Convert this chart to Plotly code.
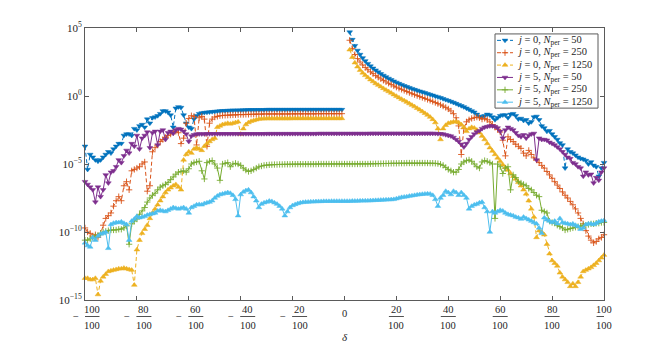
import numpy as np
import plotly.graph_objects as go

delta = [i / 100 for i in range(-100, 101)]

# log10 of each error curve (None = not drawn)
log_j0_n50 = [
    -3.7, -5.4, -4.3, -4.5, -4.7, -4.8, -4.7, -4.5, -4.3, -4.1,
    -4.2, -3.9, -3.7, -3.5, -3.5, -2.9, -2.8, -2.8, -2.9, -2.4,
    -2.5, -2.2, -2.1, -2.3, -1.7, -2.0, -1.6, -1.55, -1.45, -1.3,
    -1.1, -1.1, -1.2, -1.4, -2.3, -0.9, -0.8, -0.85, -1.4, -2.0,
    -2.3, -2.4, -1.7, -1.45, -1.3, -1.25, -1.22, -1.2, -1.18, -1.16,
    -1.14, -1.12, -1.1, -1.09, -1.08, -1.07, -1.06, -1.05, -1.05, -1.04,
    -1.04, -1.03, -1.03, -1.02, -1.02, -1.02, -1.01, -1.01, -1.01, -1.01,
    -1.0, -1.0, -1.0, -1.0, -1.0, -1.0, -1.0, -1.0, -1.0, -1.0,
    -1.0, -1.0, -1.0, -1.0, -1.0, -1.0, -1.0, -1.0, -1.0, -1.0,
    -1.0, -1.0, -1.0, -1.0, -1.0, -1.0, -1.0, -1.0, -1.0, -1.0,
    None, None, 4.7, 4.15, 3.7, 3.35, 3.05, 2.8, 2.58, 2.38,
    2.2, 2.04, 1.9, 1.76, 1.63, 1.51, 1.4, 1.29, 1.19, 1.09,
    1.0, 0.91, 0.83, 0.75, 0.68, 0.61, 0.54, 0.47, 0.41, 0.35,
    0.29, 0.23, 0.17, 0.11, 0.05, -0.01, -0.07, -0.13, -0.2, -0.27,
    -0.34, -0.41, -0.48, -0.56, -0.64, -0.72, -0.8, -0.9, -1.0, -1.1,
    -1.2, -1.35, -1.5, -1.55, -1.45, -1.35, -1.4, -1.55, -1.75, -1.6,
    -1.45, -1.4, -1.4, -1.6, -1.35, -1.3, -1.45, -1.7, -1.65, -1.8,
    -1.75, -2.0, -1.9, -1.55, -1.5, -1.75, -2.2, -2.35, -2.6, -2.55,
    -2.8, -3.0, -3.2, -3.45, -3.6, -5.3, -3.9, -4.1, -4.2, -4.35,
    -4.5, -4.6, -4.65, -4.75, -5.0, -4.85, -5.1, -5.2, -5.9, -5.3,
    -4.9,
]

log_j0_n250 = [
    -9.7, -10.0, -10.1, -10.3, -10.2, -10.4, -10.1, -9.5, -9.0, -8.8,
    -8.6, -8.1, -7.7, -7.4, -7.7, -6.6, -6.3, -6.9, -5.5, -5.4,
    -5.3, -5.2, -5.0, -4.85, -7.0, -6.6, -4.1, -3.8, -3.6, -3.35,
    -3.2, -3.05, -2.9, -2.8, -2.65, -2.6, -2.7, -3.5, -3.1, -2.0,
    -1.65, -1.45, -1.5, -3.6, -1.6, -1.5, -1.7, -3.7, -2.0, -1.7,
    -1.55, -1.5, -1.45, -1.43, -1.42, -1.41, -1.4, -1.39, -1.38, -1.37,
    -1.36, -1.36, -1.35, -1.35, -1.34, -1.34, -1.33, -1.33, -1.33, -1.32,
    -1.32, -1.32, -1.32, -1.32, -1.32, -1.32, -1.32, -1.32, -1.32, -1.32,
    -1.31, -1.31, -1.31, -1.31, -1.31, -1.31, -1.31, -1.31, -1.31, -1.31,
    -1.3, -1.3, -1.3, -1.3, -1.3, -1.3, -1.3, -1.3, -1.3, -1.3,
    None, None, 4.1, 3.5, 3.05, 2.75, 2.5, 2.28, 2.1, 1.93,
    1.78, 1.64, 1.5, 1.38, 1.26, 1.15, 1.04, 0.94, 0.84, 0.74,
    0.65, 0.57, 0.49, 0.41, 0.33, 0.25, 0.17, 0.1, 0.03, -0.04,
    -0.11, -0.18, -0.25, -0.32, -0.4, -0.48, -0.56, -0.65, -0.74, -0.84,
    -0.95, -1.1, -1.3, -1.6, -2.2, -4.3, -2.4, -1.9, -1.75, -1.65,
    -1.6, -1.55, -1.6, -1.7, -1.65, -1.75, -1.9, -2.1, -2.3, -2.45,
    -2.65, -3.25, -4.4, -3.0, -3.2, -3.35, -3.55, -3.7, -3.85, -4.2,
    -4.4, -4.0, -4.3, -4.55, -4.7, -4.9, -5.1, -5.3, -5.55, -5.8,
    -6.05, -6.3, -6.55, -6.8, -7.05, -7.3, -7.5, -7.75, -8.0, -8.3,
    -8.6, -9.0, -9.4, -9.9, -10.3, -10.6, -10.8, -10.7, -10.5, -10.4,
    -10.2,
]

log_j0_n1250 = [
    -13.4, -13.4, -13.5, -13.5, -13.4, -14.6, -13.6, -13.3, -13.1, -12.9,
    -12.85, -12.8, -12.75, -12.7, -12.7, -12.65, -12.7, -12.75, -12.8, -13.9,
    -11.3, -10.6, -10.1, -9.8, -9.5, -9.0, -8.6, -8.3, -8.0, -7.7,
    -7.4, -7.1, -6.9, -6.75, -6.6, -6.5, -6.7, -6.9, -4.7, -4.3,
    -4.1, -4.2, -3.9, -3.8, -3.9, -4.0, -3.7, -3.5, -3.35, -3.2,
    -3.1, -2.3, -2.2, -2.1, -2.05, -2.0, -2.05, -2.0, -1.95, -1.9,
    -2.8, -2.4, -2.1, -1.95, -1.85, -1.8, -1.75, -1.7, -1.68, -1.67,
    -1.66, -1.66, -1.66, -1.66, -1.66, -1.66, -1.66, -1.66, -1.66, -1.66,
    -1.65, -1.65, -1.65, -1.65, -1.65, -1.65, -1.65, -1.65, -1.65, -1.65,
    -1.65, -1.65, -1.65, -1.65, -1.65, -1.65, -1.65, -1.65, -1.65, -1.65,
    None, None, 3.4, 2.85, 2.45, 2.15, 1.9, 1.7, 1.52, 1.36,
    1.2, 1.06, 0.92, 0.8, 0.68, 0.56, 0.44, 0.33, 0.22, 0.1,
    -0.01, -0.12, -0.23, -0.34, -0.45, -0.56, -0.67, -0.78, -0.9, -1.02,
    -1.14, -1.27, -1.4, -1.55, -1.72, -1.95, -2.4, -3.2, -2.4, -2.15,
    -2.0, -1.95, -1.9, -1.9, -1.95, -2.1, -2.3, -2.6, -2.4, -2.3,
    -2.35, -2.5, -2.7, -2.95, -3.2, -3.5, -3.8, -4.05, -4.3, -4.55,
    -4.8, -5.05, -5.25, -5.45, -5.7, -5.9, -6.1, -6.35, -6.6, -6.9,
    -7.2, -7.7, -8.3, -8.9, -10.4, -9.9, -10.0, -10.2, -10.9, -11.6,
    -12.1, -12.3, -12.5, -13.0, -13.3, -13.5, -13.7, -14.0, -13.8, -14.0,
    -13.7, -13.3, -12.9, -12.8, -12.7, -12.6, -12.45, -12.3, -12.1, -11.9,
    -11.7,
]

log_j5_n50 = [
    -6.3, -6.5, -6.7, -6.9, -7.8, -6.7, -7.4, -6.9, -5.8, -6.4,
    -5.6, -5.5, -5.2, -4.7, -4.9, -4.4, -4.0, -4.2, -3.5, -3.7,
    -2.9, -3.9, -3.1, -2.9, -2.65, -3.8, -2.7, -2.6, -3.6, -2.6,
    -2.5, -3.2, -2.7, -2.6, -2.75, -2.5, -2.4, -2.45, -2.6, -2.8,
    -3.35, -2.95, -2.85, -2.8, -2.79, -2.79, -2.79, -2.78, -2.78, -2.78,
    -2.78, -2.78, -2.78, -2.78, -2.78, -2.78, -2.78, -2.78, -2.78, -2.78,
    -2.78, -2.78, -2.78, -2.78, -2.78, -2.78, -2.78, -2.78, -2.78, -2.78,
    -2.77, -2.77, -2.77, -2.77, -2.77, -2.77, -2.77, -2.77, -2.77, -2.77,
    -2.77, -2.77, -2.77, -2.77, -2.77, -2.77, -2.77, -2.77, -2.77, -2.77,
    -2.76, -2.76, -2.76, -2.76, -2.76, -2.76, -2.76, -2.76, -2.76, -2.76,
    -2.76, -2.76, -2.76, -2.76, -2.76, -2.76, -2.76, -2.76, -2.76, -2.76,
    -2.75, -2.75, -2.75, -2.75, -2.75, -2.75, -2.75, -2.75, -2.75, -2.75,
    -2.75, -2.75, -2.75, -2.75, -2.75, -2.75, -2.75, -2.75, -2.75, -2.75,
    -2.75, -2.75, -2.75, -2.75, -2.75, -2.76, -2.77, -2.78, -2.8, -2.85,
    -2.9, -2.95, -3.05, -3.2, -3.35, -3.55, -3.75, -3.5, -3.2, -3.0,
    -2.8, -2.65, -2.55, -2.4, -2.3, -2.25, -2.2, -2.2, -2.25, -2.35,
    -2.6, -3.1, -2.5, -2.3, -2.4, -2.5, -2.7, -2.9, -3.0, -2.85,
    -3.1, -2.9, -2.8, -2.75, -4.7, -3.1, -3.2, -3.2, -3.25, -3.4,
    -3.5, -3.6, -3.75, -3.9, -4.1, -4.3, -4.5, -4.6, -4.9, -5.0,
    -5.2, -5.3, -5.9, -5.6, -5.8, -5.75, -6.4, -6.0, -6.2, -5.6,
    -5.3,
]

log_j5_n250 = [
    -10.6, -10.6, -10.5, -10.4, -10.3, -10.25, -10.1, -10.0, -9.95, -9.9,
    -9.85, -9.85, -9.85, -9.8, -9.8, -9.7, -9.55, -10.9, -9.4, -9.2,
    -9.05, -8.7, -8.45, -8.2, -7.8, -7.5, -7.3, -7.15, -6.9, -6.7,
    -6.6, -6.5, -6.35, -6.15, -5.95, -5.75, -5.6, -5.55, -5.5, -5.6,
    -5.35, -5.0, -4.9, -4.85, -4.8, -5.5, -6.1, -4.9, -4.8, -4.75,
    -5.0, -5.3, -6.2, -5.0, -4.95, -4.9, -5.2, -5.0, -4.95, -5.0,
    -5.1, -5.3, -5.45, -5.55, -5.5, -5.4, -5.3, -5.2, -5.15, -5.1,
    -5.08, -5.06, -5.05, -5.04, -5.04, -5.03, -5.03, -5.02, -5.02, -5.02,
    -5.01, -5.01, -5.01, -5.01, -5.01, -5.01, -5.01, -5.01, -5.01, -5.01,
    -5.0, -5.0, -5.0, -5.0, -5.0, -5.0, -5.0, -5.0, -5.0, -5.0,
    -5.0, -5.0, -5.0, -5.0, -5.0, -5.0, -5.0, -5.0, -5.0, -5.0,
    -4.99, -4.99, -4.98, -4.98, -4.97, -4.97, -4.96, -4.96, -4.95, -4.95,
    -4.95, -4.94, -4.94, -4.94, -4.93, -4.93, -4.93, -4.93, -4.93, -4.93,
    -4.93, -4.93, -4.93, -4.94, -4.94, -4.95, -4.97, -5.02, -5.1, -5.25,
    -5.4, -5.5, -5.6, -5.6, -5.4, -5.0, -4.85, -4.75, -4.7, -4.8,
    -5.0, -5.2, -5.3, -4.85, -4.75, -4.8, -4.9, -5.0, -9.0, -5.0,
    -5.2, -5.7, -5.3, -5.2, -6.9, -5.8, -6.0, -6.3, -6.4, -6.5,
    -6.6, -6.8, -6.9, -7.1, -7.3, -7.4, -8.4, -8.5, -8.6, -9.2,
    -9.3, -9.35, -9.5, -9.6, -9.7, -9.85, -9.8, -9.75, -9.7, -9.65,
    -9.6, -9.55, -9.5, -9.5, -9.45, -9.4, -9.4, -9.35, -9.35, -9.3,
    -9.3,
]

log_j5_n1250 = [
    -10.8, -11.0, -11.1, -10.4, -10.6, -10.3, -10.15, -10.1, -10.0, -11.2,
    -9.45, -9.35, -9.3, -9.3, -9.25, -9.35, -9.45, -10.6, -9.2, -9.05,
    -8.85, -8.95, -8.9, -8.85, -8.75, -8.7, -8.65, -8.6, -8.45, -8.4,
    -8.45, -8.5, -8.4, -8.3, -8.2, -8.25, -8.3, -8.25, -8.2, -8.3,
    -8.6, -8.2, -8.1, -8.0, -7.97, -8.0, -7.9, -7.85, -7.8, -7.7,
    -7.5, -7.35, -7.25, -7.2, -7.15, -7.1, -7.15, -7.3, -7.6, -8.8,
    -7.25, -7.05, -6.95, -6.9, -7.1, -7.4, -7.7, -8.2, -7.95, -7.85,
    -7.8, -7.72, -7.75, -7.85, -7.95, -8.1, -8.3, -8.8, -8.5, -8.2,
    -8.05, -7.97, -7.9, -7.85, -7.82, -7.8, -7.79, -7.78, -7.77, -7.76,
    -7.75, -7.75, -7.74, -7.74, -7.74, -7.73, -7.73, -7.73, -7.73, -7.73,
    -7.73, -7.73, -7.73, -7.72, -7.72, -7.72, -7.71, -7.71, -7.7, -7.7,
    -7.69, -7.68, -7.67, -7.66, -7.65, -7.64, -7.63, -7.62, -7.61, -7.6,
    -7.55, -7.5, -7.45, -7.42, -7.4, -7.36, -7.33, -7.3, -7.27, -7.24,
    -7.22, -7.2, -7.19, -7.2, -7.3, -7.6, -8.1, -7.5, -7.3, -7.0,
    -7.1, -7.25, -7.0, -7.1, -7.3, -7.1, -7.3, -7.5, -8.3, -8.1,
    -8.0, -7.95, -7.85, -7.8, -8.2, -8.5, -10.0, -8.5, -8.6, -8.5,
    -8.4, -8.45, -8.6, -8.7, -8.75, -8.8, -8.9, -8.95, -9.05, -8.9,
    -9.0, -9.1, -9.2, -9.3, -9.4, -9.7, -10.1, -8.95, -9.1, -9.2,
    -9.3, -9.2, -9.4, -9.0, -9.3, -9.35, -9.4, -9.45, -9.4, -9.5,
    -9.6, -9.8, -9.7, -9.45, -9.4, -9.4, -9.45, -9.35, -9.25, -9.2,
    -9.15,
]

series_logs = [log_j0_n50, log_j0_n250, log_j0_n1250,
               log_j5_n50, log_j5_n250, log_j5_n1250]
series_names = [
    '<i>j</i> = 0, <i>N</i><sub>per</sub> = 50',
    '<i>j</i> = 0, <i>N</i><sub>per</sub> = 250',
    '<i>j</i> = 0, <i>N</i><sub>per</sub> = 1250',
    '<i>j</i> = 5, <i>N</i><sub>per</sub> = 50',
    '<i>j</i> = 5, <i>N</i><sub>per</sub> = 250',
    '<i>j</i> = 5, <i>N</i><sub>per</sub> = 1250',
]
series_colors = ['#0072BD', '#D95319', '#EDB120', '#7E2F8E', '#77AC30', '#4DBEEE']
series_symbols = ['triangle-down', 'cross-thin', 'triangle-up',
                  'triangle-down', 'cross-thin', 'triangle-up']
series_dash = ['4px,2.5px', '4px,2.5px', '4px,2.5px', 'solid', 'solid', 'solid']

x_tickvals = [-1.0, -0.8, -0.6, -0.4, -0.2, 0.0, 0.2, 0.4, 0.6, 0.8, 1.0]
x_numerators = ['100', '80', '60', '40', '20', '0', '20', '40', '60', '80', '100']
x_denominator = '100'
y_tickvals = [1e-15, 1e-10, 1e-5, 1e0, 1e5]
y_ticktext = ['10<sup>−15</sup>', '10<sup>−10</sup>', '10<sup>−5</sup>',
              '10<sup>0</sup>', '10<sup>5</sup>']

for s in series_logs:
    assert len(s) == len(delta), len(s)

FONT = 'Liberation Serif'
INK = '#262626'
AXIS = '#5a5a5a'

# the page body adds an 8px offset, so the plot box sits at (77,17)-(596,292) in figure px
PLOT_L, PLOT_R, PLOT_T, PLOT_B = 77, 596, 17, 292


def marker_style(symbol, color):
    if symbol == 'cross-thin':
        return dict(symbol=symbol, size=4.5, color=color, line=dict(color=color, width=0.9))
    return dict(symbol=symbol, size=5, color=color, line=dict(color=color, width=0.5))


fig = go.Figure()

for logs, name, color, sym, dash in zip(series_logs, series_names, series_colors,
                                       series_symbols, series_dash):
    y = [10 ** v if v is not None else None for v in logs]
    fig.add_trace(go.Scatter(
        x=delta, y=y, mode='lines+markers', name=name,
        line=dict(color=color, width=1, dash=dash),
        marker=marker_style(sym, color),
        connectgaps=False, cliponaxis=False,
    ))

# hand-drawn legend on a pixel-unit overlay axis (plotly's legend rows are too tall)
box_x = [487, 590, 590, 487, 487]
box_y = [23, 23, 98, 98, 23]
fig.add_trace(go.Scatter(x=box_x, y=box_y, xaxis='x2', yaxis='y2', mode='lines',
                         fill='toself', fillcolor='white',
                         line=dict(color=AXIS, width=1), hoverinfo='skip'))
row_y = [29.5, 42, 54.5, 67, 79.5, 92]
for ry, name, color, sym, dash in zip(row_y, series_names, series_colors,
                                      series_symbols, series_dash):
    fig.add_trace(go.Scatter(x=[489, 505], y=[ry, ry], xaxis='x2', yaxis='y2',
                             mode='lines', line=dict(color=color, width=1, dash=dash),
                             hoverinfo='skip'))
    fig.add_trace(go.Scatter(x=[497], y=[ry], xaxis='x2', yaxis='y2', mode='markers',
                             marker=marker_style(sym, color), hoverinfo='skip'))
    fig.add_annotation(x=507, y=ry, xref='x2', yref='y2', text=name, showarrow=False,
                       xanchor='left', yanchor='middle',
                       font=dict(family=FONT, size=10.5, color=INK))

# stacked-fraction tick labels under the x axis
for v, num in zip(x_tickvals, x_numerators):
    lab_font = dict(family=FONT, size=10.5, color=INK)
    if num == '0':
        fig.add_annotation(x=v, y=0, xref='x', yref='paper', text='0', showarrow=False,
                           yanchor='middle', yshift=-13, font=lab_font)
        continue
    off = 7 if v < 0 else 0
    fig.add_annotation(x=v, y=0, xref='x', yref='paper', text=num, showarrow=False,
                       yanchor='middle', xshift=off, yshift=-9, font=lab_font)
    fig.add_annotation(x=v, y=0, xref='x', yref='paper', text=x_denominator,
                       showarrow=False, yanchor='middle', xshift=off, yshift=-25.5,
                       font=lab_font)
    fig.add_shape(type='line', xref='x', yref='paper', xsizemode='pixel',
                  ysizemode='pixel', xanchor=v, yanchor=0, x0=off - 7.5, x1=off + 7.5,
                  y0=-16.5, y1=-16.5, line=dict(color=INK, width=0.8))
    if v < 0:
        fig.add_annotation(x=v, y=0, xref='x', yref='paper', text='−', showarrow=False,
                           yanchor='middle', xshift=-9.5, yshift=-16.5, font=lab_font)

fig.add_annotation(x=0, y=0, xref='x', yref='paper', text='<i>δ</i>', showarrow=False,
                   yanchor='middle', yshift=-37, font=dict(family=FONT, size=11, color=INK))

axis_common = dict(showgrid=False, zeroline=False, showline=True, linecolor=AXIS,
                   linewidth=1, mirror='ticks', ticks='inside', ticklen=4,
                   tickcolor=AXIS, tickwidth=1)

fig.update_layout(
    width=667, height=342,
    margin=dict(l=PLOT_L, r=667 - PLOT_R, t=PLOT_T, b=342 - PLOT_B),
    paper_bgcolor='white', plot_bgcolor='white',
    showlegend=False,
    font=dict(family=FONT, size=11, color=INK),
    xaxis=dict(range=[-1, 1], tickvals=x_tickvals, showticklabels=False, **axis_common),
    yaxis=dict(type='log', range=[-15, 5], tickvals=y_tickvals, ticktext=y_ticktext,
               tickfont=dict(family=FONT, size=11, color=INK), **axis_common),
    xaxis2=dict(overlaying='x', range=[PLOT_L, PLOT_R], visible=False, fixedrange=True),
    yaxis2=dict(overlaying='y', range=[PLOT_B, PLOT_T], visible=False, fixedrange=True),
)

fig.write_html('out.html')
